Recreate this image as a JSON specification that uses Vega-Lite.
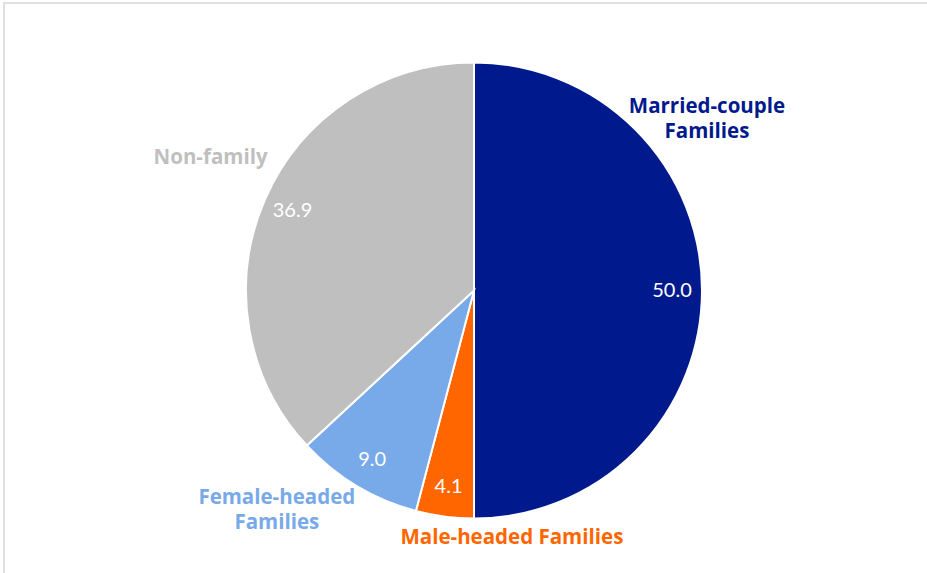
{
  "$schema": "https://vega.github.io/schema/vega-lite/v6.json",
  "width": 940,
  "height": 575,
  "padding": {"left": 4, "top": 3, "right": 0, "bottom": 0},
  "autosize": "none",
  "background": "white",
  "view": {"stroke": "#d6d6d6", "strokeWidth": 1.5},
  "config": {"view": {"stroke": "#d6d6d6", "strokeWidth": 1.5}},
  "data": {"values": [
    {"cat": "Married-couple Families", "label": "Married-couple\nFamilies", "value": 50.0, "idx": 1},
    {"cat": "Male-headed Families", "label": "Male-headed Families", "value": 4.1, "idx": 2},
    {"cat": "Female-headed Families", "label": "Female-headed\nFamilies", "value": 9.0, "idx": 3},
    {"cat": "Non-family", "label": "Non-family", "value": 36.9, "idx": 4}
  ]},
  "encoding": {
    "theta": {"field": "value", "type": "quantitative", "stack": true},
    "order": {"field": "idx", "type": "quantitative"},
    "color": {
      "field": "cat", "type": "nominal", "legend": null,
      "scale": {
        "domain": ["Married-couple Families", "Male-headed Families", "Female-headed Families", "Non-family"],
        "range": ["#001a8e", "#ff6600", "#78a9e8", "#bfbfbf"]
      }
    }
  },
  "layer": [
    {"mark": {"type": "arc", "outerRadius": 228, "stroke": "white", "strokeWidth": 2}},
    {
      "mark": {"type": "text", "radius": 198, "font": "Lato", "fontSize": 20, "fill": "white", "baseline": "middle", "align": "center"},
      "encoding": {"text": {"field": "value", "type": "quantitative", "format": ".1f"}, "color": {"value": "white"}}
    },
    {
      "mark": {"type": "text", "radius": 233, "dy": -184, "font": "Open Sans", "fontWeight": "bold", "fontSize": 20.5, "lineBreak": "\n", "lineHeight": 25, "baseline": "middle", "align": "center"},
      "encoding": {"text": {"condition": {"test": "datum.idx == 1", "field": "label"}, "value": ""}}
    },
    {
      "mark": {"type": "text", "radius": 250, "dx": 70, "dy": 0, "font": "Open Sans", "fontWeight": "bold", "fontSize": 20.5, "lineBreak": "\n", "lineHeight": 25, "baseline": "middle", "align": "center"},
      "encoding": {"text": {"condition": {"test": "datum.idx == 2", "field": "label"}, "value": ""}}
    },
    {
      "mark": {"type": "text", "radius": 290, "dx": -48, "dy": -41, "font": "Open Sans", "fontWeight": "bold", "fontSize": 20.5, "lineBreak": "\n", "lineHeight": 25, "baseline": "middle", "align": "center"},
      "encoding": {"text": {"condition": {"test": "datum.idx == 3", "field": "label"}, "value": ""}}
    },
    {
      "mark": {"type": "text", "radius": 294, "dx": 6, "dy": -15, "font": "Open Sans", "fontWeight": "bold", "fontSize": 20.5, "lineBreak": "\n", "lineHeight": 25, "baseline": "middle", "align": "center"},
      "encoding": {"text": {"condition": {"test": "datum.idx == 4", "field": "label"}, "value": ""}}
    }
  ]
}
